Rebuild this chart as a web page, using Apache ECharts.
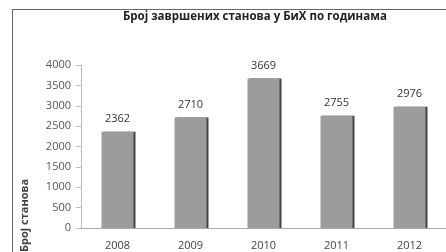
<!DOCTYPE html>
<html><head><meta charset="utf-8">
<script src="https://cdn.jsdelivr.net/npm/echarts@6/dist/echarts.min.js"></script>
<style>html,body{margin:0;padding:0;background:#fff}#c{width:446px;height:252px}</style>
</head><body><div id="c"></div>
<script>
const categories = ['2008', '2009', '2010', '2011', '2012'];
const values = [2362, 2710, 3669, 2755, 2976];
const yTicks = [0, 500, 1000, 1500, 2000, 2500, 3000, 3500, 4000];
const titleText = 'Број завршених станова у БиХ по годинама';
const yName = 'Број станова';

const chart = echarts.init(document.getElementById('c'), null, {renderer: 'canvas'});
chart.setOption({
  animation: false,
  backgroundColor: '#fff',
  grid: {left: 81, right: -21.5, top: 65, bottom: 24, containLabel: false},
  graphic: [
    {type: 'line', shape: {x1: 12, y1: 9.5, x2: 446, y2: 9.5}, style: {stroke: '#666', lineWidth: 1}},
    {type: 'line', shape: {x1: 12.5, y1: 9, x2: 12.5, y2: 252}, style: {stroke: '#666', lineWidth: 1}},
    {type: 'text', left: 123, top: 11, style: {text: titleText, font: 'bold 11.5px "Open Sans", sans-serif', fill: '#222'}},
    {type: 'text', x: 19, y: 252, rotation: Math.PI / 2, style: {text: yName, font: 'bold 11px "Open Sans", sans-serif', fill: '#444'}}
  ],
  xAxis: {
    type: 'category', data: categories,
    axisLine: {lineStyle: {color: '#aaa'}},
    axisTick: {show: false},
    axisLabel: {color: '#444', fontSize: 11, margin: 12, fontFamily: 'Open Sans'}
  },
  yAxis: {
    type: 'value', min: yTicks[0], max: yTicks[yTicks.length - 1], interval: 500,
    axisLine: {show: true, lineStyle: {color: '#bbb'}},
    axisTick: {show: true, length: 5, lineStyle: {color: '#bbb'}},
    splitLine: {show: false},
    axisLabel: {color: '#555', fontSize: 11, margin: 10, fontFamily: 'Open Sans', formatter: v => String(v)}
  },
  series: [{
    type: 'bar', data: values, barWidth: 32,
    itemStyle: {color: '#9c9c9c', shadowColor: '#444', shadowOffsetX: 2, shadowOffsetY: 0, shadowBlur: 0},
    label: {show: true, position: 'top', distance: 7, color: '#333', fontSize: 11, fontFamily: 'Open Sans'}
  }]
});
</script></body></html>
